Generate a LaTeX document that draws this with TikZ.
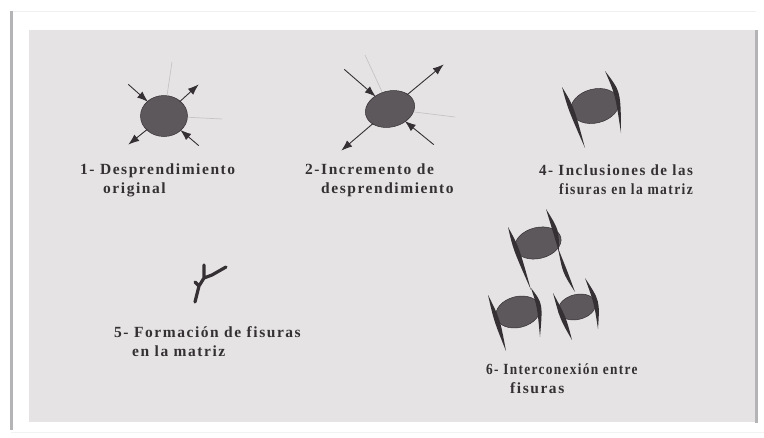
\documentclass[tikz,border=0pt]{standalone}
\usepackage{fontspec}
\setmainfont{Liberation Serif}[LetterSpace=10]
\usetikzlibrary{arrows.meta,calc,shapes.geometric}
\definecolor{panelgrey}{HTML}{E5E3E4}
\definecolor{framegrey}{HTML}{B4B4B6}
\definecolor{inkgrey}{HTML}{343033}
\definecolor{blobgrey}{HTML}{5C585B}
\definecolor{hairgrey}{HTML}{C6C4C5}
\tikzset{
  inclusion/.style={ellipse,fill=blobgrey,draw=inkgrey,line width=0.5pt,inner sep=0pt},
  load/.style={draw=inkgrey,line width=0.9pt,-{Latex[length=11pt,width=8pt]},shorten >=-1pt,shorten <=-1pt},
  hair/.style={draw=hairgrey,line width=0.7pt},
  caption/.style={font=\bfseries\fontsize{15.5}{19}\selectfont,text=inkgrey,align=left,anchor=north west,inner sep=0pt}
}
% Tapered crack through three points, thickest at the middle one
\newcommand{\crack}[4][3.2]{%
  \fill[inkgrey] ($#2$) .. controls ($#3!#1pt!90:#2$) .. ($#4$) .. controls ($#3!#1pt!-90:#2$) .. cycle;%
}
\begin{document}
\begin{tikzpicture}[x=1pt,y=-1pt]
\useasboundingbox (0,0) rectangle (764,437);
\fill[white] (0,0) rectangle (764,437);
\draw[draw=black!6,line width=0.8pt] (11,11) -- (756,11);
\draw[draw=black!5,line width=0.8pt] (11,432) -- (764,432);
\fill[framegrey] (10,11) rectangle (12.5,430);
\fill[panelgrey] (29,30) rectangle (755,422);
\fill[framegrey] (755,30) rectangle (757.5,423);

% Stage 1
\node[inclusion,minimum width=47pt,minimum height=41pt] (a) at (164,116) {};
\coordinate (a1) at (129,85);
\coordinate (a2) at (198,85);
\coordinate (a3) at (129,144);
\coordinate (a4) at (198,145);
\coordinate (a5) at (172,62);
\coordinate (a6) at (222,119);
\draw[load] (a1) -- (a);
\draw[load] (a) -- (a2);
\draw[load] (a) -- (a3);
\draw[load] (a4) -- (a);
\draw[hair] (a5) -- (a);
\draw[hair] (a) -- (a6);
\node[caption] (ta) at (80,164) {1- Desprendimiento\\\hspace*{23pt}original};

% Stage 2
\node[inclusion,rotate=14,minimum width=50pt,minimum height=36pt] (b) at (390,109) {};
\coordinate (b1) at (345,70);
\coordinate (b2) at (443,65);
\coordinate (b3) at (342,150);
\coordinate (b4) at (433,144);
\coordinate (b5) at (365,55);
\coordinate (b6) at (455,117);
\draw[load] (b1) -- (b);
\draw[load] (b) -- (b2);
\draw[load] (b) -- (b3);
\draw[load] (b4) -- (b);
\draw[hair] (b5) -- (b);
\draw[hair] (b) -- (b6);
\node[caption] (tb) at (305,164) {2-Incremento de\\\hspace*{16pt}desprendimiento};

% Stage 4
\node[inclusion,rotate=14,minimum width=49pt,minimum height=34pt] (c) at (595,106) {};
\crack{(562,87)}{(571,108)}{(585,148)}
\crack{(605,71)}{(618,93)}{(621,133)}
\node[caption] (tc) at (539,165) {\scalebox{0.97}[1]{4- Inclusiones de las}\\\hspace*{20pt}\scalebox{0.875}[1]{fisuras en la matriz}};

% Stage 5
\draw[inkgrey,line width=3.2pt,line cap=round,line join=round]
  (195,302) -- (199,286) -- (204,278) -- (204,265)
  (204,278) -- (212,275) -- (226,267)
  (199,286) -- (195,282);
\node[caption] (td) at (114,326) {5- Formación de fisuras\\\hspace*{18pt}en la matriz};

% Stage 6
\node[inclusion,rotate=14,minimum width=47pt,minimum height=31pt] (d) at (538,243) {};
\node[inclusion,rotate=14,minimum width=45pt,minimum height=31pt] (e) at (518,312) {};
\node[inclusion,rotate=14,minimum width=38pt,minimum height=25pt] (f) at (577,307) {};
\crack{(508,227)}{(516,248)}{(531,290)}
\crack{(546,209)}{(556,231)}{(559,252)}
\crack[2.5]{(558,248)}{(565,272)}{(575,292)}
\crack{(488,295)}{(497,320)}{(506,351)}
\crack{(531,288)}{(540,305)}{(540,337)}
\crack{(553,293)}{(563,318)}{(572,340)}
\crack{(585,278)}{(597,302)}{(598,329)}
\node[caption] (te) at (486,364) {\scalebox{0.86}[1]{6- Interconexión entre}\\\hspace*{24pt}fisuras};
\end{tikzpicture}
\end{document}
